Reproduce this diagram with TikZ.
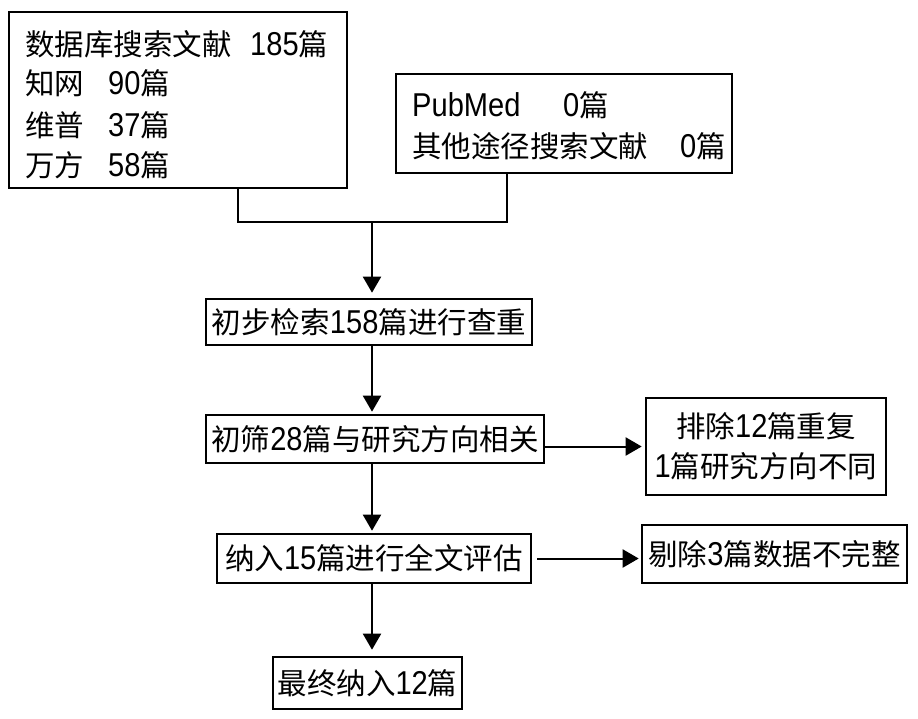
\documentclass[tikz,border=0pt]{standalone}
\usepackage{fontspec}
\setmainfont{Liberation Sans}[Scale=1.12,FakeStretch=0.88]
\newfontfamily\cjk{Noto Sans CJK SC}
\usetikzlibrary{arrows.meta}
\newcommand\pianzi{{\cjk 篇}}
\newcommand\fsz{\fontsize{29.5}{40}\selectfont}
\begin{document}
\begin{tikzpicture}[x=1pt,y=-1pt,
  box/.style={draw, line width=2.6pt, inner sep=0pt, font=\fsz, align=center},
  txt/.style={inner sep=0pt, font=\fsz, anchor=west},
  conn/.style={line width=2pt},
  arr/.style={line width=2pt, -{Triangle[width=18pt,length=16pt]}}]
\useasboundingbox[fill=white] (0,0) rectangle (918,718);

% top-left box
\node[box, minimum width=338pt, minimum height=176pt] (b1) at (178,100) {};
\node[txt] (b1a) at (25,44) {{\cjk 数据库搜索文献}};
\node[txt] (b1an) at (250,44) {185\pianzi};
\node[txt] (b1b) at (25,83) {{\cjk 知网}};
\node[txt] (b1bn) at (108,83) {90\pianzi};
\node[txt] (b1c) at (25,125) {{\cjk 维普}};
\node[txt] (b1cn) at (108,125) {37\pianzi};
\node[txt] (b1d) at (25,165) {{\cjk 万方}};
\node[txt] (b1dn) at (108,165) {58\pianzi};

% top-right box
\node[box, minimum width=336pt, minimum height=99pt] (b2) at (564,123.5) {};
\node[txt] (b2a) at (412,105) {PubMed};
\node[txt] (b2an) at (563,105) {0\pianzi};
\node[txt] (b2b) at (412,146) {{\cjk 其他途径搜索文献}};
\node[txt] (b2bn) at (680,146) {0\pianzi};

\coordinate (j) at (372,222);

% main flow
\node[box, minimum width=326pt, minimum height=46pt] (b3) at (369,322) {{\cjk 初步检索}158{\cjk 篇进行查重}};
\node[box, minimum width=338pt, minimum height=48pt] (b4) at (375,439) {{\cjk 初筛}28{\cjk 篇与研究方向相关}};
\node[box, minimum width=314pt, minimum height=49pt] (b5) at (374,558.5) {{\cjk 纳入}15{\cjk 篇进行全文评估}};
\node[box, minimum width=189pt, minimum height=52pt] (b6) at (367.5,683) {{\cjk 最终纳入}12\pianzi};

% side boxes
\node[box, minimum width=240pt, minimum height=97pt] (r1) at (766,446.5) {{\cjk 排除}12{\cjk 篇重复}\\1{\cjk 篇研究方向不同}};
\node[box, minimum width=265pt, minimum height=58pt] (r2) at (774.5,554) {{\cjk 剔除}3{\cjk 篇数据不完整}};

% connectors
\draw[conn] ([xshift=60pt]b1.south) |- (j) -| ([xshift=-57pt]b2.south);
\draw[arr, shorten >=5pt] (j) -- (j |- b3.north);
\draw[arr, shorten >=2pt] (j |- b3.south) -- (j |- b4.north);
\draw[arr, shorten >=2pt] (j |- b4.south) -- (j |- b5.north);
\draw[arr, shorten >=6pt] (j |- b5.south) -- (j |- b6.north);
\draw[arr, shorten >=3pt] (b4.east |- r1.west) -- (r1.west);
\draw[arr, shorten <=5pt, shorten >=2pt] (b5.east) -- (b5.east -| r2.west);
\end{tikzpicture}
\end{document}
